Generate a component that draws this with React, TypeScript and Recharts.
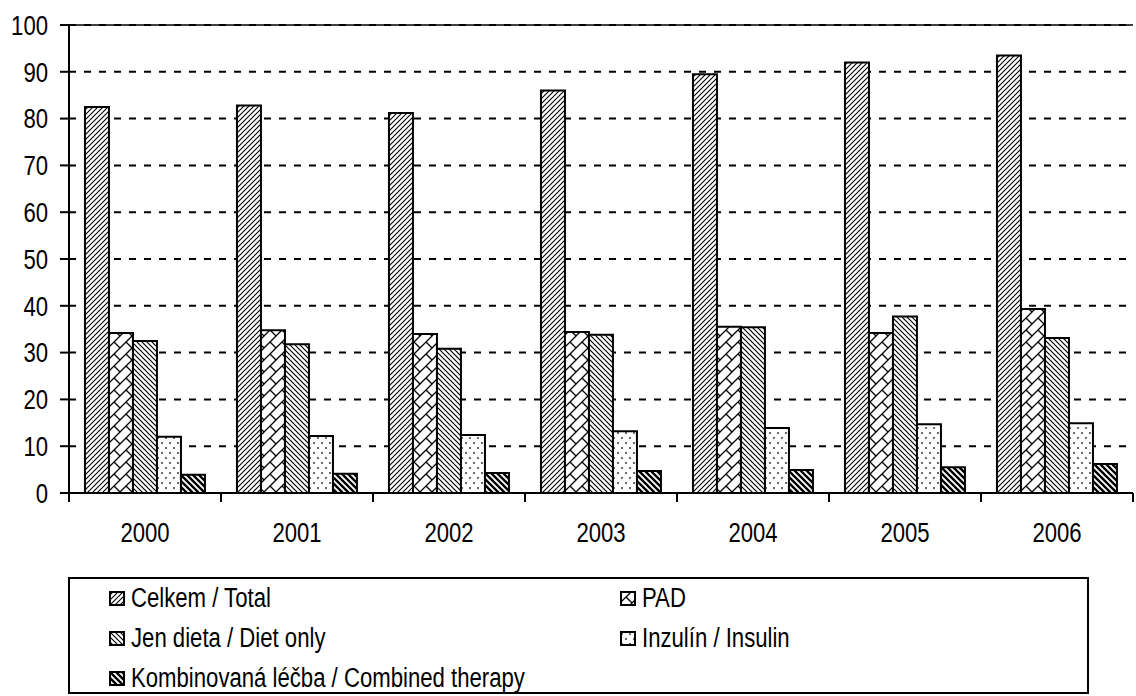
import React from 'react';
import { BarChart, Bar, XAxis, YAxis, CartesianGrid, ReferenceLine, Legend } from 'recharts';

const years = ['2000', '2001', '2002', '2003', '2004', '2005', '2006'];
const celkem = [82.5, 82.8, 81.2, 86.0, 89.5, 92.0, 93.5];
const pad = [34.2, 34.8, 34.0, 34.4, 35.5, 34.2, 39.3];
const jenDieta = [32.5, 31.8, 30.8, 33.8, 35.4, 37.7, 33.1];
const inzulin = [12.0, 12.2, 12.4, 13.2, 13.9, 14.7, 14.9];
const kombinovana = [3.9, 4.1, 4.3, 4.7, 4.9, 5.5, 6.2];
const yTicks = [0, 10, 20, 30, 40, 50, 60, 70, 80, 90, 100];

const series = [
  { key: 'celkem', name: 'Celkem / Total', fill: 'url(#pTotal)' },
  { key: 'pad', name: 'PAD', fill: 'url(#pPad)' },
  { key: 'jenDieta', name: 'Jen dieta / Diet only', fill: 'url(#pDiet)' },
  { key: 'inzulin', name: 'Inzulín / Insulin', fill: 'url(#pIns)' },
  { key: 'kombinovana', name: 'Kombinovaná léčba / Combined therapy', fill: 'url(#pComb)' },
];

const data = years.map((y, i) => ({
  year: y,
  celkem: celkem[i],
  pad: pad[i],
  jenDieta: jenDieta[i],
  inzulin: inzulin[i],
  kombinovana: kombinovana[i],
}));

// no Arial Narrow in the sandbox, so squeeze Liberation Sans a bit
const FONT = "'Liberation Sans', Arial, sans-serif";
const FS = 27;
const SQ = 0.82;

const XTick = (props: any) => {
  const { x, y, payload, index } = props;
  const half = payload.offset;
  return (
    <g>
      <line x1={x - half} x2={x - half} y1={y} y2={y + 9} stroke="#000" strokeWidth={2} />
      {index === years.length - 1 && (
        <line x1={x + half} x2={x + half} y1={y} y2={y + 9} stroke="#000" strokeWidth={2} />
      )}
      <text
        transform={`translate(${x},${y + 49}) scale(${SQ},1)`}
        textAnchor="middle"
        fill="#000"
        fontFamily={FONT}
        fontSize={FS}
      >
        {payload.value}
      </text>
    </g>
  );
};

const YTick = (props: any) => {
  const { x, y, payload } = props;
  return (
    <text
      transform={`translate(${x},${y}) scale(${SQ},1)`}
      dy="0.36em"
      textAnchor="end"
      fill="#000"
      fontFamily={FONT}
      fontSize={FS}
    >
      {payload.value}
    </text>
  );
};

const LegendBox = () => (
  <div
    style={{
      boxSizing: 'border-box',
      width: 1021,
      height: 117,
      border: '2px solid #000',
      position: 'relative',
      fontFamily: FONT,
      fontSize: FS,
      color: '#000',
    }}
  >
    {series.map((s, i) => (
      <div
        key={s.key}
        style={{
          position: 'absolute',
          left: i % 2 === 0 ? 39 : 550,
          top: 2 + Math.floor(i / 2) * 40,
          height: 34,
          display: 'flex',
          alignItems: 'center',
          whiteSpace: 'nowrap',
        }}
      >
        <svg width={16} height={15} style={{ marginRight: 6 }}>
          <rect x={1} y={1} width={14} height={13} fill={s.fill} stroke="#000" strokeWidth={2} />
        </svg>
        <span style={{ display: 'inline-block', transform: `scaleX(${SQ})`, transformOrigin: 'left center' }}>
          {s.name}
        </span>
      </div>
    ))}
  </div>
);

export default function App() {
  return (
    <div style={{ position: 'relative', width: 1136, height: 696, background: '#fff' }}>
      <style>{'body{margin:0}'}</style>
      <svg width={0} height={0} style={{ position: 'absolute' }}>
        <defs>
          <pattern id="pTotal" patternUnits="userSpaceOnUse" width={5} height={5}>
            <rect width={5} height={5} fill="#fff" />
            <path d="M-1,1 l2,-2 M0,5 l5,-5 M4,6 l2,-2" stroke="#000" strokeWidth={1.1} />
          </pattern>
          <pattern id="pDiet" patternUnits="userSpaceOnUse" width={5} height={5}>
            <rect width={5} height={5} fill="#fff" />
            <path d="M-1,4 l2,2 M0,0 l5,5 M4,-1 l2,2" stroke="#000" strokeWidth={1.2} />
          </pattern>
          <pattern id="pComb" patternUnits="userSpaceOnUse" width={6} height={6}>
            <rect width={6} height={6} fill="#fff" />
            <path d="M-1,5 l2,2 M0,0 l6,6 M5,-1 l2,2" stroke="#000" strokeWidth={2.4} />
          </pattern>
          <pattern id="pPad" patternUnits="userSpaceOnUse" width={12} height={12}>
            <rect width={12} height={12} fill="#fff" />
            <path d="M0,12 L12,0 M6,6 L12,12 M-1,1 l2,-2 M11,13 l2,-2" stroke="#000" strokeWidth={1.3} />
          </pattern>
          <pattern id="pIns" patternUnits="userSpaceOnUse" width={8} height={10}>
            <rect width={8} height={10} fill="#fff" />
            <circle cx={2} cy={3} r={0.9} fill="#222" />
            <circle cx={6} cy={8} r={0.9} fill="#222" />
          </pattern>
        </defs>
      </svg>
      <BarChart
        width={1136}
        height={696}
        data={data}
        margin={{ top: 25, right: 3, left: 0, bottom: 143 }}
        barCategoryGap="10.5%"
        barGap={0}
      >
        <CartesianGrid vertical={false} stroke="#000" strokeWidth={2} strokeDasharray="7 8" />
        <ReferenceLine y={100} stroke="#000" strokeWidth={1.5} />
        <XAxis
          dataKey="year"
          height={60}
          axisLine={{ stroke: '#000', strokeWidth: 2 }}
          tickLine={false}
          tickSize={0}
          tickMargin={0}
          tick={<XTick />}
          interval={0}
        />
        <YAxis
          domain={[0, 100]}
          ticks={yTicks}
          width={69}
          axisLine={{ stroke: '#000', strokeWidth: 2 }}
          tickLine={{ stroke: '#000', strokeWidth: 2 }}
          tickSize={9}
          tickMargin={12}
          tick={<YTick />}
        />
        {series.map((s) => (
          <Bar
            key={s.key}
            dataKey={s.key}
            name={s.name}
            fill={s.fill}
            stroke="#000"
            strokeWidth={2}
            isAnimationActive={false}
          />
        ))}
        <Legend
          layout="horizontal"
          verticalAlign="middle"
          align="center"
          content={<LegendBox />}
          wrapperStyle={{ position: 'absolute', left: 68, top: 577, width: 1021, height: 117 }}
        />
      </BarChart>
    </div>
  );
}
